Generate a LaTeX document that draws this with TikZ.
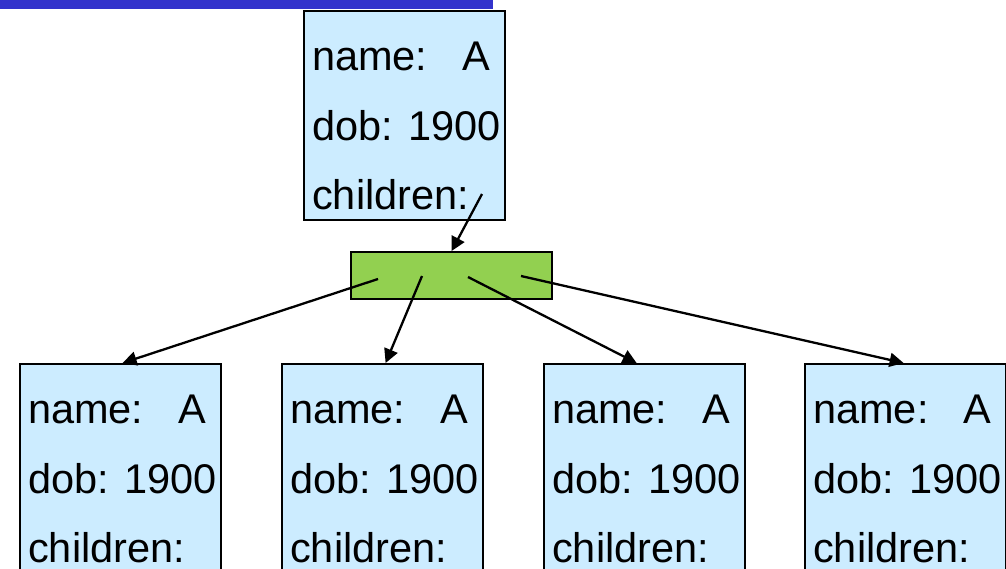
\documentclass[tikz,border=0pt]{standalone}
\usepackage{fontspec}
\setmainfont{Liberation Sans}
\usetikzlibrary{arrows.meta,calc}

\definecolor{recfill}{RGB}{204,236,255}
\definecolor{listfill}{RGB}{146,208,80}
\definecolor{barblue}{RGB}{51,51,204}

\tikzset{
  recbox/.style={draw=black, fill=recfill, line width=2.2pt, inner sep=0pt,
    minimum width=201pt, minimum height=209pt, anchor=north west},
  listbox/.style={draw=black, fill=listfill, line width=2.2pt, inner sep=0pt,
    minimum width=201pt, minimum height=47pt, anchor=north west},
  rectext/.style={inner sep=0pt, anchor=base west,
    font=\fontsize{41.5}{50}\selectfont},
  conn/.style={line width=2.3pt, -{Triangle[length=14pt,width=14pt]}}
}

% one person record: box plus its three field lines
\newcommand{\personrec}[3]{%
  \node[recbox] (#1) at (#2,#3) {};
  \node[rectext] (#1-name) at ($(#1.north west)+(9,60)$) {name:\hspace{35pt}A};
  \node[rectext] (#1-dob)  at ($(#1.north west)+(9,130)$) {dob: 1900};
  \node[rectext] (#1-kids) at ($(#1.north west)+(9,199)$) {children:};
}

\begin{document}
\begin{tikzpicture}[x=1pt,y=-1pt]
  \useasboundingbox (0,0) rectangle (1006,568);
  \clip (0,0) rectangle (1006,568);

  % title bar
  \node[fill=barblue, inner sep=0pt, minimum width=493pt, minimum height=9pt,
        anchor=north west] (bar) at (0,0) {};

  % parent record
  \personrec{top}{303}{10}

  % list of children
  \node[listbox] (list) at (350,251) {};

  % child records
  \personrec{c1}{19}{363}
  \personrec{c2}{281}{363}
  \personrec{c3}{543}{363}
  \personrec{c4}{804}{363}

  % pointer origins
  \coordinate (p0) at (482,194);
  \coordinate (p1) at (378,279);
  \coordinate (p2) at (422,276);
  \coordinate (p3) at (468,277);
  \coordinate (p4) at (521,276);

  \draw[conn] (p0) -- (list.north);
  \draw[conn] (p1) -- ([xshift=2pt]c1.north);
  \draw[conn] (p2) -- ([xshift=3pt]c2.north);
  \draw[conn] (p3) -- ([xshift=-8pt]c3.north);
  \draw[conn] (p4) -- ([xshift=-2pt]c4.north);
\end{tikzpicture}
\end{document}
